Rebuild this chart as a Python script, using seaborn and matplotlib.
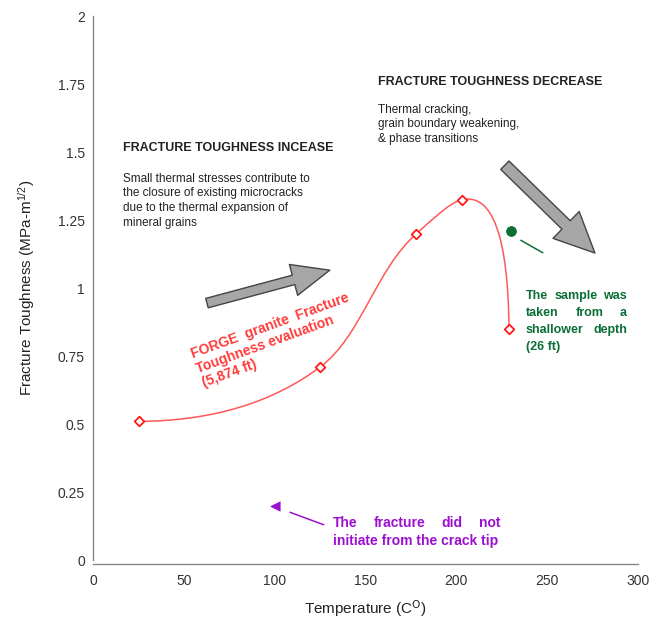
import numpy as np
import pandas as pd
import seaborn as sns
import matplotlib.pyplot as plt
from matplotlib.path import Path
from matplotlib.patches import PathPatch, FancyArrowPatch
from matplotlib.transforms import IdentityTransform

# data
temp = [25, 125, 178, 203, 229]
toughness = [0.51, 0.71, 1.20, 1.325, 0.85]
shallow_temp = [230]
shallow_tough = [1.21]
noinit_temp = [100]
noinit_tough = [0.20]

xticks = [0, 50, 100, 150, 200, 250, 300]
yticks = [0, 0.25, 0.5, 0.75, 1, 1.25, 1.5, 1.75, 2]
ytick_labels = ['0', '0.25', '0.5', '0.75', '1', '1.25', '1.5', '1.75', '2']

sns.set_style("white")
plt.rcParams['font.family'] = ['Liberation Sans', 'DejaVu Sans']
plt.rcParams['mathtext.default'] = 'regular'

RED = '#ff3b3b'
GREEN = '#0b6e35'
PURPLE = '#9b10d0'
GRAY = '#868686'

fig = plt.figure(figsize=(6.51, 6.21), dpi=100)
ax = fig.add_axes([0.143, 0.098, 0.837, 0.876])
ax.set_xlim(0, 300)
ax.set_ylim(0, 2)

# ---- smoothed line (Excel style bezier, tangents from chord lengths) ----
sx, sy = 1.817, 272.0   # approx px per data unit, so the smoothing looks right on screen
P = np.column_stack([np.array(temp) * sx, np.array(toughness) * sy])
d = np.linalg.norm(np.diff(P, axis=0), axis=1)
u = np.diff(P, axis=0) / d[:, None]
m = np.zeros_like(P)
for i in range(1, len(P) - 1):
    w0 = d[i] / (d[i - 1] + d[i])
    m[i] = u[i - 1] * w0 + u[i] * (1 - w0)
m[0] = 2 * u[0] - m[1]
m[-1] = 2 * u[-1] - m[-2]
verts = [P[0]]
codes = [Path.MOVETO]
for i in range(len(P) - 1):
    verts += [P[i] + m[i] * d[i] / 3, P[i + 1] - m[i + 1] * d[i] / 3, P[i + 1]]
    codes += [Path.CURVE4] * 3
verts = np.array(verts) / [sx, sy]
ax.add_patch(PathPatch(Path(verts, codes), fill=False, edgecolor=RED, lw=1.1, alpha=0.85))

df = pd.DataFrame({'Temperature': temp, 'Toughness': toughness})
sns.scatterplot(data=df, x='Temperature', y='Toughness', ax=ax, marker='D', s=24,
                facecolor='white', edgecolor='#ff1a1a', linewidth=1.3, zorder=5)
sns.scatterplot(x=shallow_temp, y=shallow_tough, ax=ax, marker='o', s=50,
                color=GREEN, edgecolor=GREEN, zorder=5)
sns.scatterplot(x=noinit_temp, y=noinit_tough, ax=ax, marker='<', s=45,
                color=PURPLE, edgecolor=PURPLE, zorder=5)

# ---- axes styling ----
ax.set_xticks(xticks)
ax.set_yticks(yticks)
ax.set_yticklabels(ytick_labels)
for s in ['top', 'right']:
    ax.spines[s].set_visible(False)
for s in ['left', 'bottom']:
    ax.spines[s].set_color(GRAY)
    ax.spines[s].set_linewidth(1.0)
ax.spines['bottom'].set_position(('outward', 3))
ax.tick_params(axis='y', direction='out', length=3, color=GRAY, labelsize=10,
               labelcolor='#333333', pad=3)
ax.tick_params(axis='x', direction='in', length=3, color=GRAY, labelsize=10,
               labelcolor='#333333', pad=7)
ax.set_xlabel(r'Temperature (C$^{\mathrm{O}}$)', fontsize=11, color='#222222', labelpad=7)
ax.set_ylabel(r'Fracture Toughness (MPa-m$^{1/2}$)', fontsize=11, color='#222222', labelpad=15)

# ---- big gray arrows ----
for tail, tip, hw, hl, tw in [((62.7, 0.945), (130.3, 1.066), 23, 27, 7),
                              ((226.7, 1.452), (276.3, 1.129), 27, 29, 8.5)]:
    ax.add_patch(FancyArrowPatch(tail, tip, shrinkA=0, shrinkB=0,
                                 arrowstyle=f'simple,head_width={hw},head_length={hl},tail_width={tw}',
                                 facecolor='#a6a6a6', edgecolor='#444444', lw=1.0, zorder=4))

# ---- annotations ----
ax.text(16.5, 1.515, 'FRACTURE TOUGHNESS INCEASE', fontsize=9, fontweight='bold',
        color='#222222', va='center')
ax.text(16.5, 1.425, 'Small thermal stresses contribute to\nthe closure of existing microcracks\n'
        'due to the thermal expansion of\nmineral grains', fontsize=8.5, color='#222222',
        va='top', linespacing=1.3)
ax.text(156.8, 1.757, 'FRACTURE TOUGHNESS DECREASE', fontsize=9, fontweight='bold',
        color='#222222', va='center')
ax.text(156.8, 1.678, 'Thermal cracking,\ngrain boundary weakening,\n& phase transitions',
        fontsize=8.5, color='#222222', va='top', linespacing=1.3)

ax.text(60.5, 0.64, 'FORGE  granite  Fracture\nToughness evaluation\n(5,874 ft)',
        fontsize=10, fontweight='bold', color=RED, rotation=20, rotation_mode='anchor',
        ha='left', va='baseline', linespacing=1.15)

ax.plot([235.5, 247.6], [1.176, 1.13], color=GREEN, lw=1.1)
ax.plot([108.4, 127.0], [0.176, 0.13], color=PURPLE, lw=1.1)

fig.canvas.draw()
renderer = fig.canvas.get_renderer()


def justified(lines, left_px, base_px, width_px, step_px, **kw):
    # place words so every line but the last fills width_px (like a justified text box)
    for k, line in enumerate(lines):
        y = 621 - (base_px + k * step_px)
        words = line.split()
        if k == len(lines) - 1 or len(words) == 1:
            fig.text(left_px, y, line, transform=IdentityTransform(), **kw)
            continue
        objs = [fig.text(0, y, w, transform=IdentityTransform(), **kw) for w in words]
        widths = [o.get_window_extent(renderer).width for o in objs]
        gap = (width_px - sum(widths)) / (len(words) - 1)
        x = left_px
        for o, wdt in zip(objs, widths):
            o.set_x(x)
            x += wdt + gap


justified(['The sample was', 'taken from a', 'shallower depth', '(26 ft)'],
          526, 299, 101, 17, fontsize=9, fontweight='bold', color=GREEN)
justified(['The fracture did not', 'initiate from the crack tip'],
          333, 527, 167, 17.5, fontsize=10, fontweight='bold', color=PURPLE)

fig.savefig('out.png', dpi=100)
